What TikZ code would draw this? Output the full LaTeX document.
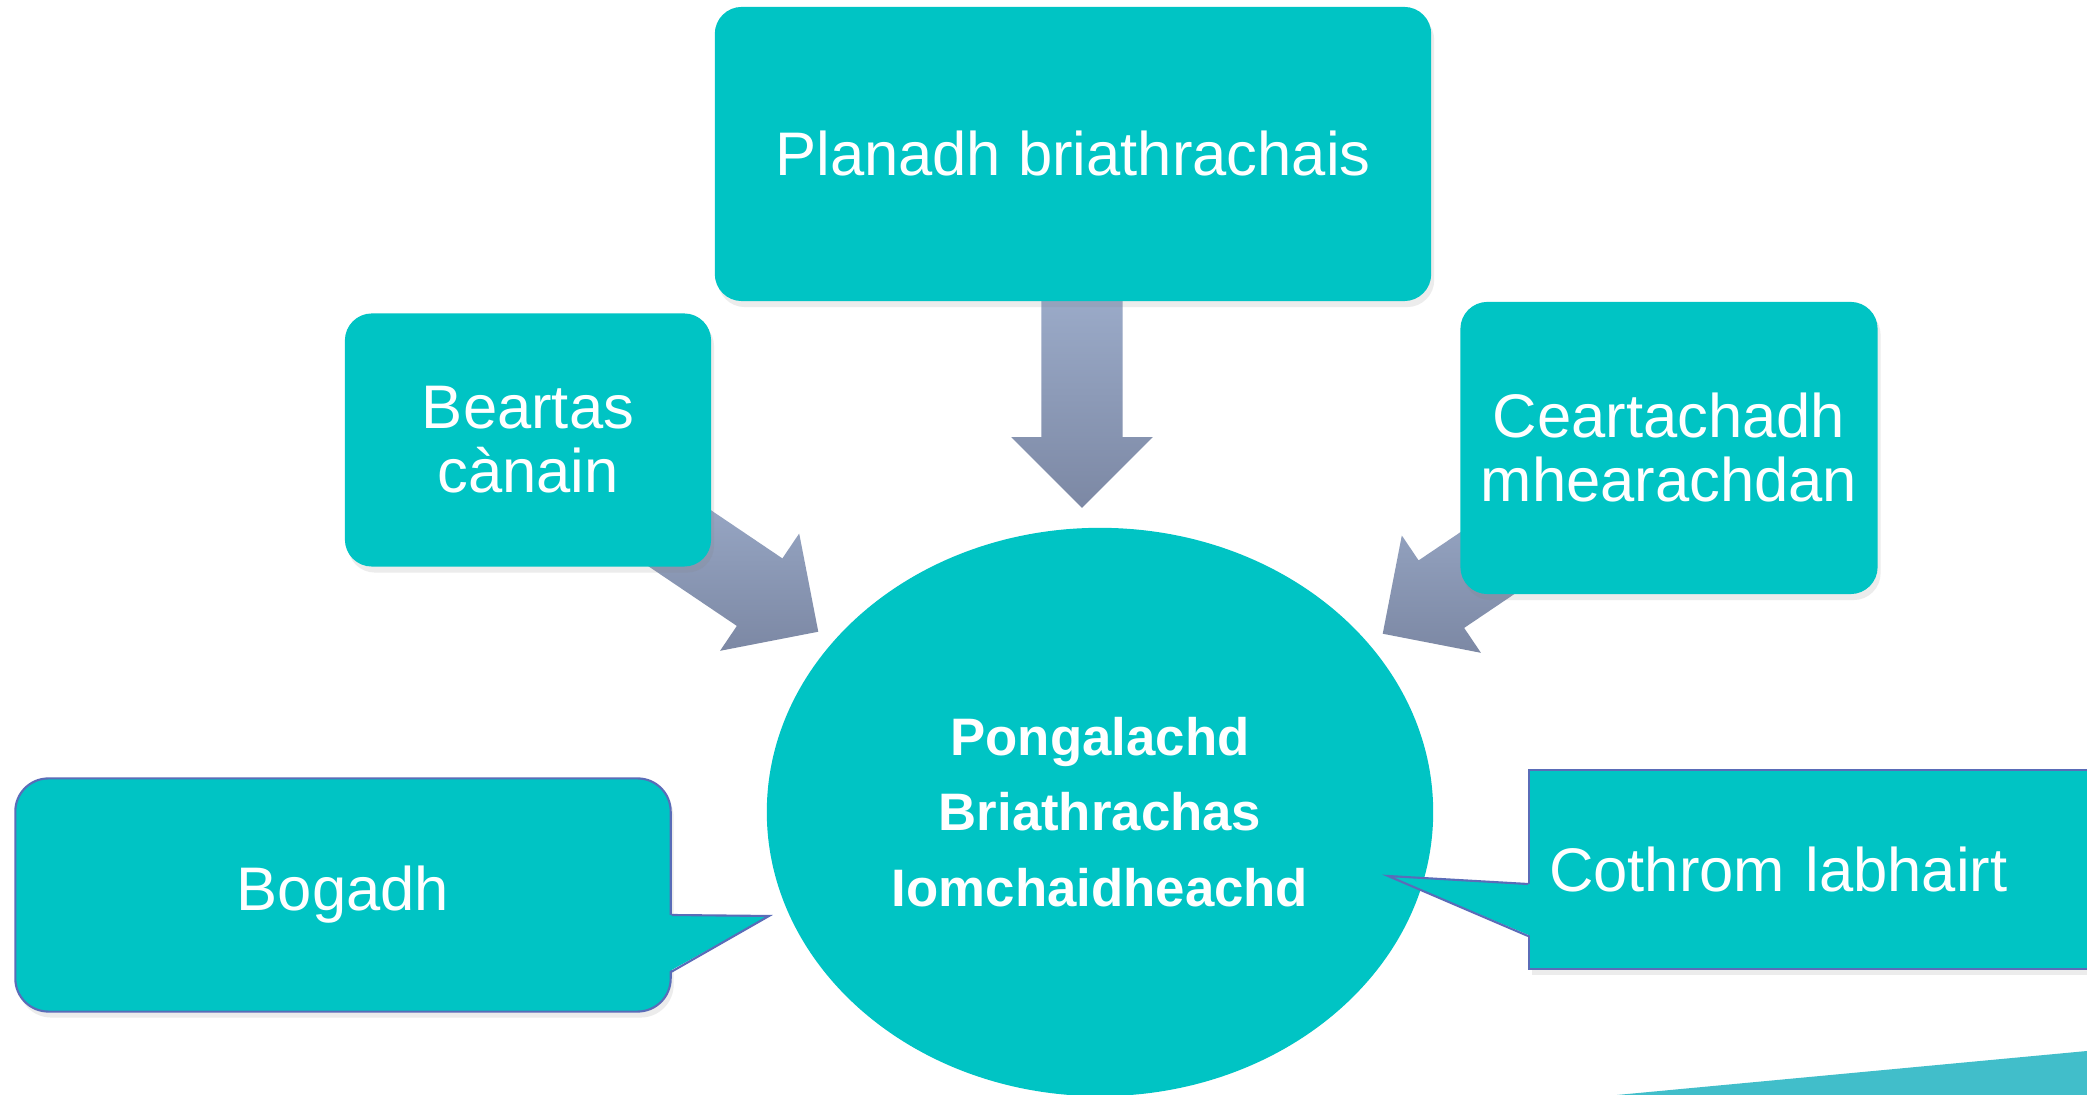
\documentclass[tikz,border=0pt]{standalone}
\usepackage{fontspec}
\setmainfont{Liberation Sans}
\usetikzlibrary{shapes.geometric,shapes.arrows,shadows}
\definecolor{GaelTeal}{RGB}{0,196,196}
\definecolor{ArrTop}{RGB}{157,173,203}
\definecolor{ArrBot}{RGB}{124,136,164}
\definecolor{EdgeBlue}{RGB}{90,108,184}
\definecolor{WedgeTeal}{RGB}{65,190,202}

\begin{document}
\begin{tikzpicture}[x=0.01cm,y=-0.01cm,
  box/.style={fill=GaelTeal,rounded corners=0.27cm,text=white,align=center,
              inner sep=0pt,font=\fontsize{17.5}{18.2}\selectfont,
              drop shadow={shadow xshift=0.03cm,shadow yshift=-0.06cm,opacity=0.15}},
  callout/.style={box,draw=EdgeBlue,line width=0.6pt},
  bigarr/.style={single arrow,single arrow head extend=0.3cm,
                 minimum height=2.3cm,inner xsep=0pt,inner ysep=0.4cm,
                 top color=ArrTop,bottom color=ArrBot},
]
\useasboundingbox (0,0) rectangle (2087,1095);
\clip (0,0) rectangle (2087,1095);
\fill[white] (0,0) rectangle (2087,1095);
% corner decoration
\fill[WedgeTeal] (1617,1095) -- (2087,1051) -- (2087,1095) -- cycle;
% block arrows (behind the boxes)
\node[bigarr,rotate=-90,minimum height=2.27cm] (arrtop) at (1082,374) {};
\node[bigarr,rotate=-34] (arrleft) at (706,556) {};
\node[bigarr,rotate=-146] (arrright) at (1495,558) {};
% centre
\node[ellipse,fill=GaelTeal,minimum width=6.66cm,minimum height=5.68cm,
      inner sep=0pt,text=white,align=center,
      font=\bfseries\fontsize{15}{21.4}\selectfont] (core) at (1100,812)
  {Pongalachd\\Briathrachas\\Iomchaidheachd};
% boxes
\node[box,minimum width=7.16cm,minimum height=2.94cm] (plan) at (1073,154)
  {Planadh briathrachais};
\node[box,minimum width=3.66cm,minimum height=2.53cm] (beartas) at (528,440)
  {Beartas\\cànain};
\node[box,minimum width=4.17cm,minimum height=2.92cm] (ceart) at (1669,448)
  {Ceartachadh\\mhearachdan};
% callouts
\node[callout,rounded corners=0.33cm,minimum width=6.55cm,minimum height=2.33cm]
  (bogadh) at (343,895) {Bogadh};
\fill[GaelTeal] (bogadh.east |- 0,915) ++(-3,0) -- (769,916) -- (668,972) -- cycle;
\draw[EdgeBlue,line width=0.6pt] (bogadh.east |- 0,915) -- (769,916) -- (671,972);
\node[callout,sharp corners,anchor=north west,minimum width=5.8cm,
      minimum height=1.99cm,text width=5.4cm,align=left,inner xsep=0.2cm]
  (cothrom) at (1528,769) {Cothrom labhairt};
\fill[GaelTeal] (1531,884) -- (1388,876) -- (1531,936) -- cycle;
\draw[EdgeBlue,line width=0.6pt] (cothrom.west |- 0,884) -- (1388,876) -- (1528,936);
\end{tikzpicture}
\end{document}
